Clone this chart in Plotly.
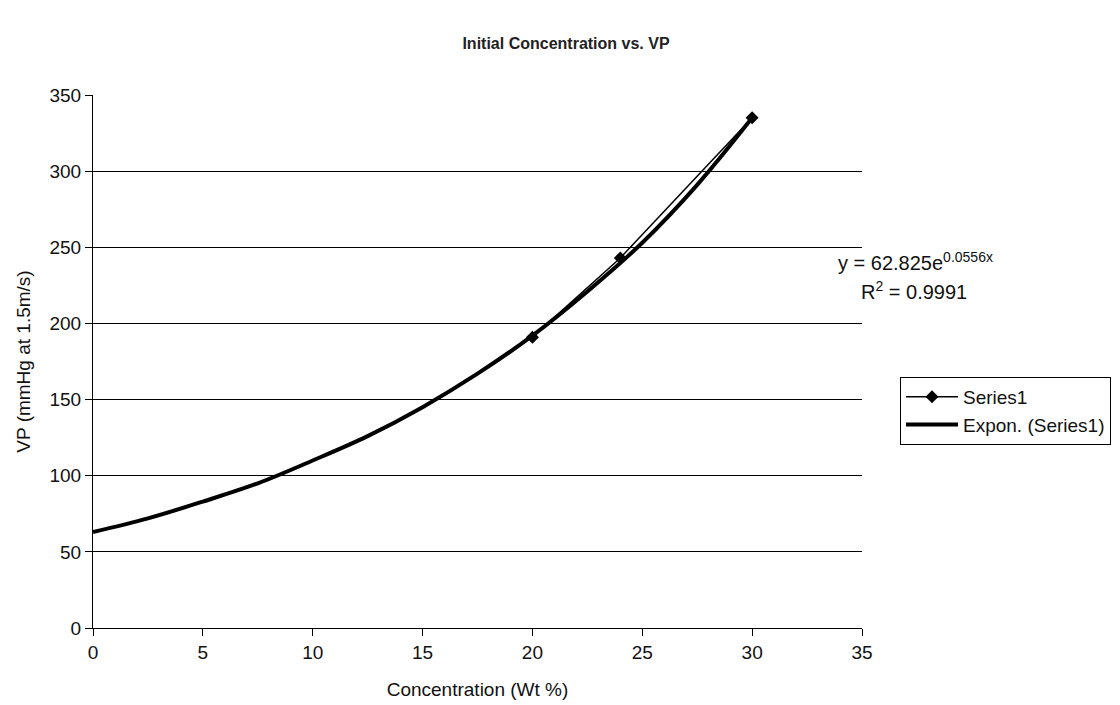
import plotly.graph_objects as go

# Measured data
conc = [20, 24, 30]
vp = [191, 243, 335]

# Exponential trendline
trend_x = [0, 2.5, 5, 7.5, 10, 12.5, 15, 17.5, 20, 22.5, 25, 27.5, 30]
trend_y = [63, 72, 83, 95, 110, 126, 145, 167, 192, 221, 253, 291, 335]

x_ticks = [0, 5, 10, 15, 20, 25, 30, 35]
y_ticks = [0, 50, 100, 150, 200, 250, 300, 350]

FONT = "Liberation Sans, Arial, sans-serif"
TXT = "#111111"

# page has an 8px body margin; keep the figure inside the window
W, H = 1112, 697
L, T, PW, PH = 85, 87, 769, 533


def px_x(x):  # window px -> plot-domain paper coordinate
    return (x - 8 - L) / PW


def px_y(y):
    return (T + PH - (y - 8)) / PH


fig = go.Figure()
fig.add_trace(go.Scatter(
    x=conc, y=vp, mode="lines+markers", name="Series1",
    line=dict(color="black", width=1.5),
    marker=dict(symbol="diamond", size=10, color="black"),
))
fig.add_trace(go.Scatter(
    x=trend_x, y=trend_y, mode="lines", name="Expon. (Series1)",
    line=dict(color="black", width=4, shape="spline"),
))

fig.update_layout(
    width=W, height=H,
    paper_bgcolor="white", plot_bgcolor="white",
    margin=dict(l=L, r=W - L - PW, t=T, b=H - T - PH, autoexpand=False),
    font=dict(family=FONT, size=19, color=TXT),
    title=dict(text="<b>Initial Concentration vs. VP</b>", x=558 / W, xanchor="center",
               y=1 - 35 / H, yanchor="middle", font=dict(size=16, family=FONT, color="#222222")),
    showlegend=True,
    legend=dict(x=px_x(900), y=px_y(377), xanchor="left", yanchor="top",
                bordercolor="black", borderwidth=1, bgcolor="white",
                font=dict(size=19, family=FONT, color=TXT), tracegroupgap=0,
                itemwidth=52),
    xaxis=dict(
        range=[0, 35], tickvals=x_ticks, ticks="outside", ticklen=7, tickcolor="black",
        showline=True, linecolor="black", linewidth=1, showgrid=False, zeroline=False,
        title=dict(text="Concentration (Wt %)", font=dict(size=19, family=FONT, color=TXT), standoff=20),
        tickfont=dict(size=19, family=FONT, color=TXT),
    ),
    yaxis=dict(
        range=[0, 350], tickvals=y_ticks, ticks="outside", ticklen=7, tickcolor="black",
        showline=True, linecolor="black", linewidth=1, showgrid=True, gridcolor="black",
        gridwidth=1, zeroline=False,
        title=dict(text="VP (mmHg at 1.5m/s)", font=dict(size=19, family=FONT, color=TXT), standoff=13),
        tickfont=dict(size=19, family=FONT, color=TXT),
    ),
)

fig.add_annotation(
    x=px_x(916), y=px_y(262), xref="paper", yref="paper",
    text="y = 62.825e<sup>0.0556x</sup>", showarrow=False,
    font=dict(size=20, family=FONT, color=TXT), xanchor="center", yanchor="middle",
)
fig.add_annotation(
    x=px_x(914), y=px_y(290), xref="paper", yref="paper",
    text="R<sup>2</sup> = 0.9991", showarrow=False,
    font=dict(size=20, family=FONT, color=TXT), xanchor="center", yanchor="middle",
)

fig.write_html("out.html")
